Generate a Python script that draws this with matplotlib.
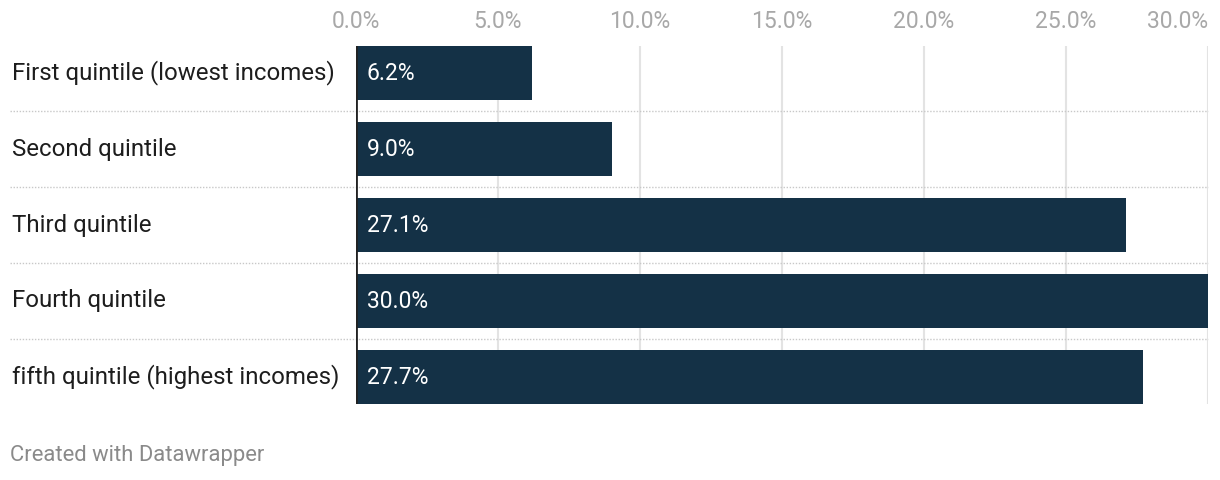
import numpy as np
import matplotlib.pyplot as plt
from matplotlib.ticker import FuncFormatter
from matplotlib.transforms import blended_transform_factory

# ---------- DATA ----------
categories = [
    "First quintile (lowest incomes)",
    "Second quintile",
    "Third quintile",
    "Fourth quintile",
    "fifth quintile (highest incomes)",
]
shares = [6.2, 9.0, 27.1, 30.0, 27.7]
x_ticks = [0, 5, 10, 15, 20, 25, 30]
footer = "Created with Datawrapper"
# --------------------------

BAR_COLOR = "#143146"
GRID_COLOR = "#e3e3e3"
SEP_COLOR = "#c8c8c8"
TICK_COLOR = "#a8a8a8"

plt.rcParams['font.family'] = ['Roboto', 'DejaVu Sans']

W, H = 1220, 480
fig = plt.figure(figsize=(W / 100, H / 100), dpi=100)
ax_left, ax_right, ax_top, ax_bottom = 356, 1208, 46, 404
ax = fig.add_axes([ax_left / W, 1 - ax_bottom / H,
                   (ax_right - ax_left) / W, (ax_bottom - ax_top) / H])

pos = np.arange(len(categories))
bar_h = 54 / 76
ax.barh(pos, shares, height=bar_h, color=BAR_COLOR, zorder=3)

ax.set_xlim(0, 30)
ax.set_ylim(len(categories) - 1 + bar_h / 2, -bar_h / 2)

# vertical grid
for t in x_ticks[1:]:
    ax.axvline(t, color=GRID_COLOR, lw=1.5, zorder=1)

# dotted separators between rows, running under the labels too
x0 = (10 - ax_left) / (ax_right - ax_left)
for p in pos[:-1]:
    ax.axhline(p + 0.5, xmin=x0, xmax=1, color=SEP_COLOR, lw=1,
               ls=(0, (1, 1.2)), clip_on=False, zorder=2)

# baseline
ax.axvline(0, color="#222222", lw=2, zorder=4)

for s in ax.spines.values():
    s.set_visible(False)

ax.set_yticks([])
ax.xaxis.tick_top()
ax.set_xticks(x_ticks)
ax.xaxis.set_major_formatter(FuncFormatter(lambda v, _: f"{v:.1f}%"))
ax.tick_params(axis='x', length=0, pad=9, labelsize=16.5, labelcolor=TICK_COLOR)
ax.get_xticklabels()[-1].set_horizontalalignment('right')

# category labels and values
label_tr = blended_transform_factory(fig.transFigure, ax.transData)
for p, name, v in zip(pos, categories, shares):
    ax.text(12 / W, p, name, transform=label_tr, ha='left', va='center',
            fontsize=17.3, color="#1d1d1d")
    ax.text(0.37, p, f"{v:.1f}%", ha='left', va='center',
            fontsize=16.5, color="white", zorder=5)

fig.text(10 / W, 1 - 456 / H, footer, ha='left', va='center',
         fontsize=15.8, color="#8a8a8a")

fig.savefig("out.png", dpi=100)
